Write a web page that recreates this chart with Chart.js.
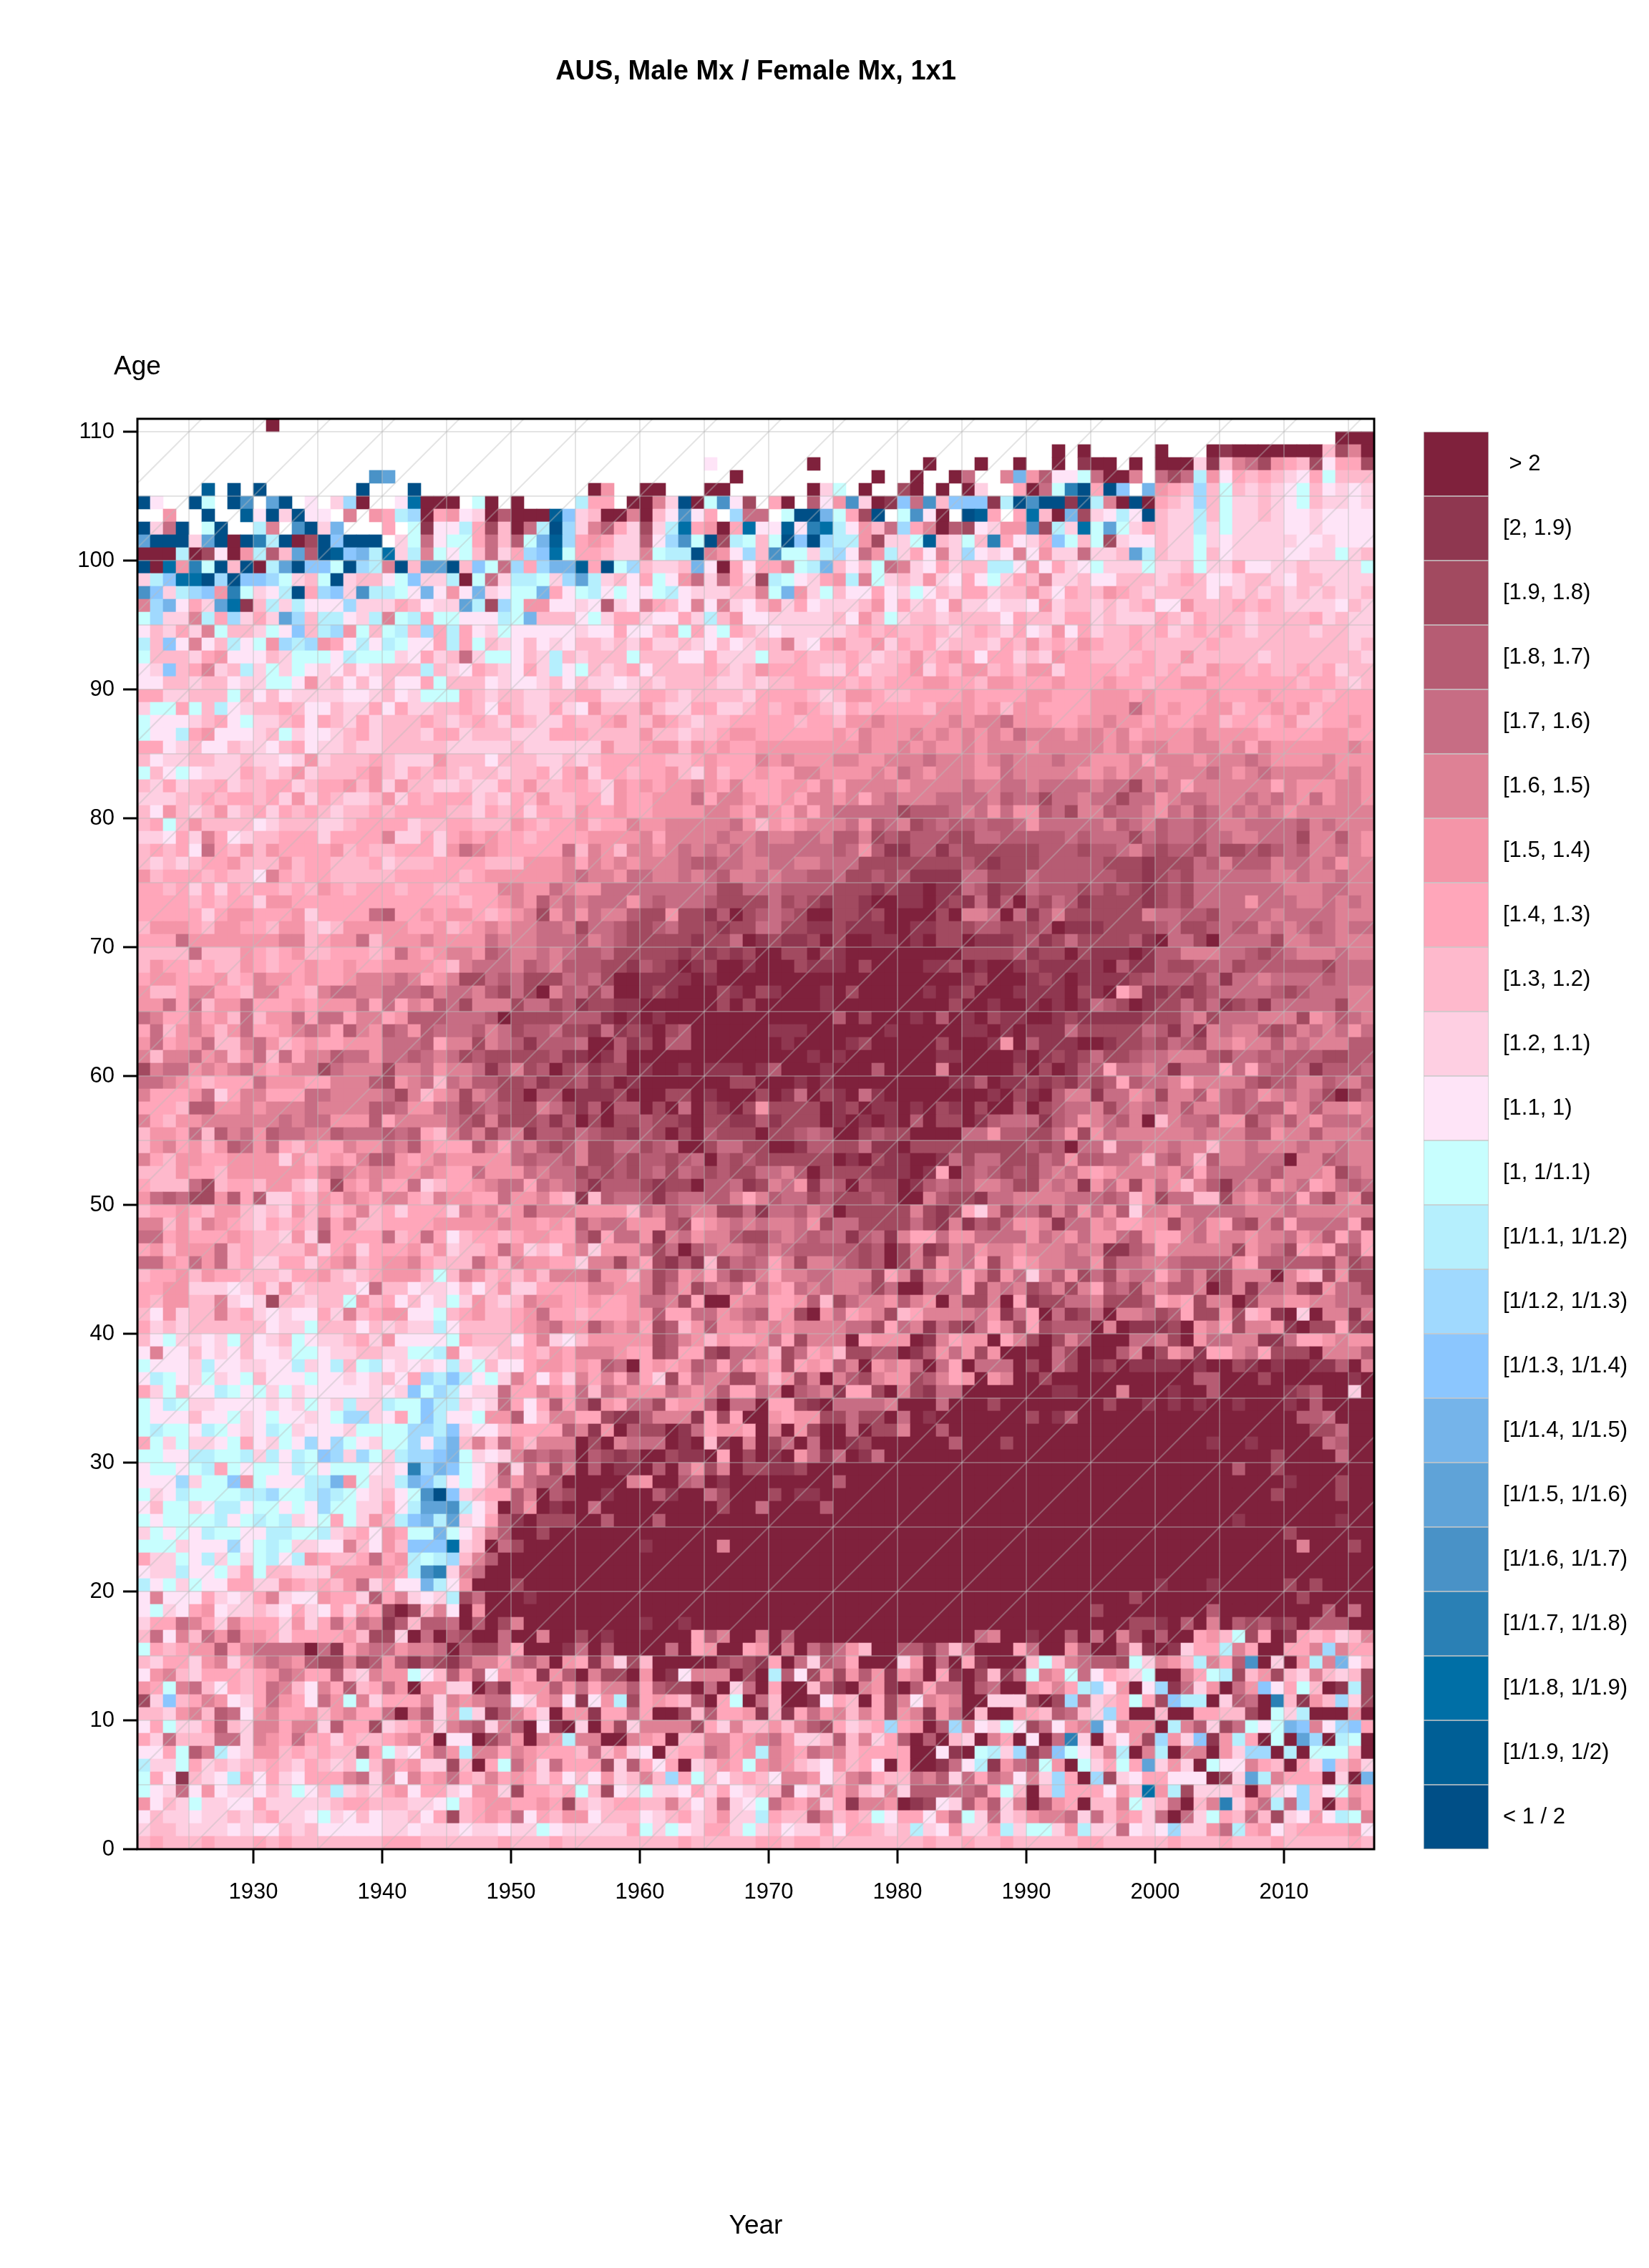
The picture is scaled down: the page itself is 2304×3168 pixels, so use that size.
<!DOCTYPE html>
<html>
<head>
<meta charset="utf-8">
<title>AUS, Male Mx / Female Mx, 1x1</title>
<script src="https://cdn.jsdelivr.net/npm/chart.js@4/dist/chart.umd.min.js"></script>
<style>
  html, body { margin: 0; padding: 0; background: #fff; }
  canvas { position: absolute; top: 0; display: block; }
  #heat { left: 0; }
  #key { left: 1957px; }
</style>
</head>
<body>
<canvas id="heat" width="2112" height="3168"></canvas>
<canvas id="key" width="347" height="3168"></canvas>
<script>
const titleText = "AUS, Male Mx / Female Mx, 1x1";
const firstYear = 1921;
const topAge = 110;

// legend classes, top to bottom; a letter in ratioRows is an index into these
const classCodes = "abcdefghijklmnopqrstuv";
const classLabels = [
  " > 2", "[2, 1.9)", "[1.9, 1.8)", "[1.8, 1.7)", "[1.7, 1.6)", "[1.6, 1.5)", "[1.5, 1.4)", "[1.4, 1.3)",
  "[1.3, 1.2)", "[1.2, 1.1)", "[1.1, 1)", "[1, 1/1.1)", "[1/1.1, 1/1.2)", "[1/1.2, 1/1.3)", "[1/1.3, 1/1.4)",
  "[1/1.4, 1/1.5)", "[1/1.5, 1/1.6)", "[1/1.6, 1/1.7)", "[1/1.7, 1/1.8)", "[1/1.8, 1/1.9)", "[1/1.9, 1/2)", "< 1 / 2"
];
const classColors = [
  "#7f213c", "#8f3750", "#a24a60", "#b65c73", "#c76d84", "#de8195", "#f495a8", "#ffa6ba",
  "#feb9cc", "#fecfe2", "#fee4f7", "#c7fefe", "#b5effd", "#a0d9fe", "#8bc6fe",
  "#75b4ea", "#5fa3d8", "#4992c7", "#2a80b5", "#006fa6", "#005f96", "#004f87"
];

const xTickYears = [1925,1930,1935,1940,1945,1950,1955,1960,1965,1970,1975,1980,1985,1990,1995,2000,2005,2010,2015];
const yTickAges = [0,5,10,15,20,25,30,35,40,45,50,55,60,65,70,75,80,85,90,95,100,105,110];
const cohorts = [1810,1815,1820,1825,1830,1835,1840,1845,1850,1855,1860,1865,1870,1875,1880,1885,1890,1895,1900,1905,1910,1915,1920,1925,1930,1935,1940,1945,1950,1955,1960,1965,1970,1975,1980,1985,1990,1995,2000,2005,2010,2015];

// one row per age from 110 down to 0; groups: 1921-29, 1930s ... 2000s, 2010-16; "." = no value
const ratioRows = [
"......... .a........ .......... .......... .......... .......... .......... .......... .......... .......",
"......... .......... .......... .......... .......... .......... .......... .......... .......... ....aaa",
"......... .......... .......... .......... .......... .......... .......... ..a.a..... a...abaaaa aaaicfa",
"......... .......... .......... .......... .....k.... ...a...... ..a...a..a ..a.baa.a. aaajbifecg hickhhc",
"......... .........r q......... .......... .......a.. ........a. .a..ae..fp gdkkleaaf. ecemgkhihi jkhliii",
".....u.v. v.......v. ..v....... ......ag.. aa...aa... ...ajl.a.. ca.a.aj..h aelsvhvo.p ghinilijij klikjkj",
"vk..vl.vr .qv.k.jna. .ktaaa.la. a....mhh.a afjvalrkc. ha.dkgrjab oeriooobmv rvvbvmfava hijniljjij klijjkj",
"..g..v..u kvjvkk.f.g hmnahgkjad aaauojiaaf aikrkh.nee .lvvplhcv. lrka.vuh.h tiapcjkmkv ijjmiljjij kkjkkkk",
"vjev.lv.. mf.rvjp... h.lbkkmhci aemvnjfdhj cjmthgahtk kukstmkgie nhfadckjgg rcmjtlqljh ijjmjljjjj kkjkkkk",
"qvvvjqvav smvacvovvv .jlekllhei dlpunhghjj dknrlvcmli lvovnmmgcj jluijlishk jholilcjkk ijjljkjjjj jkkjkkk",
"aaamackag mdiqdvuopm tjmflkliej hnotlhhijj flmmvfgkni rlljmnkegm jhkfjnkjkf kgjjejjiqm ijjlikjjjj kkjjlji",
"vatgslviv amqvoolvnm fviqqviole nhnppuhvln ijjipkahkh hflmpikile fjkhjiimmk gkhjkljjjl jjiljjhkkj jijjjjl",
"jmottvnvo onljilvjii klojjmalej mmljnqmjik hlkgejehjc mlkjhgmflj ijgjkhkljh ifjjikkiii jihikkjiij kiijjjj",
"rojmnogsl jkmvhnojrm mlkpkgkpjk llphklmklk klmkjjjiif lpgjlikkhk jlkijhhjii gikhiighij iiiikijiji jijijji",
"fnpkhjqtb imjmkkknjj jhikjjqmcn lggkkjkdjk fhikfkfjki gjhkjjjigk hjikgjjkjj kgjiijijih kkgiiihihi jjjjkij",
"lnjjfmhnj hjqnimmkjm flmhllkkkm lpiiikljhh jkkhjmigkk jjjjjikgil jiijiiiikh iijhhjijjj hijhiiijii iihjijj",
"kijhjflii jlkoimngli lminhmhkjl kkkkkjkkhk kihlhklhij kjjjjjihih iihijihijh kjgkhjiihi hjihihijii iijiijj",
"miokfkimk lgnmnghkmk mlkkhmhlij kikjkiijij hjjijkikji ifjkhgiigj hihjiiijhi gihighiihi iiiihiiiii iiiiiji",
"liiijhgkk kijlllkmll ljkhjiejll kijmijiiil iiikkhjjjl iihiiihiji igihghkhhj ijghhiiiih iigiiiiiji iiiiiij",
"kjoihfjim jljlkjkikj iiimijkhij khjmklijih kiiiihijig hhhijjhjii hgjhiggihi ggjhhhhihh ihiighhihi ihihjii",
"kkiijiikj jllkgjikik ikkhliiikj kkjikijjkj ijiiiijjij iihhhhihih hhgghhiggh hhghhhghhi hhgghhhhhh hihhiji",
"hhjjiiili kikjjjjkkj ikjlllhiji ijjiihhjjj hhijiiiijh hhhijigghi ihhhhghhhh gghhhggghg hhhhghhhgh hhhihhh",
"jllhlimkj iihikkijjh khjjiihikh ijjhjkgiii gijjhhjjih ihghijhihh hhiggghgig ghhhhgggeg hghhggihhg hgihhhh",
"lkkkjihkl jjihkhijhj iiihijihij hijjhiihgi ighijiihhh hhihhiggfg ggggfgffeg gghhggfggh ghhggihhih giihhgh",
"lkkmhgkkk jiljkkjihj iiijhhjiii jjjhhhiiii giijiihggh hhhhhghfgg gfgfgfgfge fffgffgfhg gggfgggghh hhhgghh",
"hhkjikkij jkihkjjijj iiiiijjjjj ijjjjjjgii hggighghhg gggggggfgg fgfggfgfff gfffffgfgf fggffgfhfg gggggfg",
"ikjjiijji jjkjgjiiih ijjjgiiiki iijjijihhh hhiihghhhf gfgggffggf ffefffgfef ffeffgggfh fffgfffefg gggfggg",
"liklkjjjh ijigjiiihg ijhihijiij iihjhgjhhi hhgijgihhg hhffggggfg efgfffggef ffffggfgff gfffefgfef ffffgfg",
"ijhjiihji ihhjihhgig jgiijjijjh igiihhijgh ghggfghfhh hgghfhffff gffffeffee feeeefeecf efhffffffh fgggffg",
"jjjiihihh ihjgjhijji gjhihhhjij higiihhjgh hgggehffgh hghffgfhfe fffeeeefde eceefeecee gfeefffefe fgegffg",
"ikgijigji hjhihijiih ihhhhiijhi hjhhighhgh hggggffghf ghfhfeeeee cdddefegeg gdecffdeef gefdefefef gffffff",
"ihligiiii kjiiijjihh hhjiihhiii ghihhgihhf ggfffffegi ghgfffegde fcdeddedde geeeeefdef deedeffeee edfefff",
"jjkhjfhkj iihhhjhhhh fjjhjhghgh hihhhhgggg fhffffeffe ffeefddfcd cdddcceedd dddedeeece deedeeffee ecffdfg",
"ihihkehig ighhhhgihi ihhhjgefgh hhhheifgif fgfefefefe eeeeedegdb bddbdccccc cdddcddefd cddceccdcd edffefg",
"ijijihhgi iigihhiiih jiiihhhhii igggfhfgfg fffeddeeff eeffeeeccc cccccdcbcc cdddddcccb cccedfdddf eefegff",
"gihhhihii kfhihhiiii ihhhhhihgg ggggfeffge effefedffe feeddeccdc dbbbbeeccc eddddddccb cdceeeeeef feffeff",
"hhihjhjhi hhihighihh hihhiihhhf fggefggeee eeeeeeccee eddddcccbc bbabbedbcc edddcdcdcb cdceeeeeee fffeeff",
"hhhhihihh jgghhhhhhh hhhhhhihhg fgdfefeeeg edeeedcccc ecdcbccbaa bbabcbebda dcedbccccb cdceeeegee effefef",
"hhhhhjhgg hhhgjhhhhe dhhghgghih gfcgegeffd ccgccbdacd edcaaccbca aaacaffeae bdfccccccf eeddceeeef eeeefff",
"iggghiggh higgijiggg gghhgihgfg ffeefceedc cdecccbcce eccbbcbbba abbcccddcc cdabbbcccc deccdeddfe fedefee",
"hhheggggg ggffihggei gggfggggef ffeeedfedc ccccbcceab cbbcacaabb abaccabbbc dbceccccdb aeecaeeeec ffeefff",
"iiiieiiig hihgiihhhi heghgffgde ffefeddecc cccbcbcbca accacbaaaa aaaaaccccd bccacbbbab ddfffeedcd efffeff",
"ighhihiig hihhghhghh gggghifeee fdefdddccb dcbabcaaba aacbbbacaa aabbcabaab cbbbbbadbb dccddecddd dddceee",
"hgghhhgih fgghghhgff fefhgfcced ecccedecaa bbbbabaaaa aaaaaaaaaa aaaaabcaaa bcbabbbbcd dddcebeefe eeedeee",
"giihffhhi ffhhifeeff eeedfeefdc ecafdeceaa bcbaaacbac baaabacaaa aababcaaab bbbacbahfb bcbcdeeeed cdeeeff",
"ggeheigge hhhghgggeh ehfgdecfff ceecdbccbb aaaaaacaca aaaabaaaaa aaaacaabaa bababedcab ccecebcdbe eeeecff",
"efhhfhgie iggeheehff hgdddeeeda ccccdddbab abaaaaaaaa aaaaadacaa abadabacbb aabcbbbbbc ccefceeeff fcgfdef",
"heigfgige hhgfefhdfg degdeeedfe cddeccbebc bacdaaaaaa bbbaaaaaab aaaaabbaba bbbeccccce dbebfeffdc dfefege",
"gehggeiif egihghhggg eeedhffcfe dbdddeaadb caddaaaaaa abaaaabcaa aaacaaabga dbbbaabccd cedcffgffd fefffdd",
"fiffegfig eiehffdeeg eedefecdcc cccdbbabda aaaaaaaaaa aaababaaaa aaabbaaaab abcbceccde efffdceede dddccdd",
"cfeegfgfe ghgffcefff cffegffebd fcdacdbcca baababbbab daaabaaada aaafaaaaac acabddheef ebeeehehed debddde",
"eefghihhh eggghhfffd cgfeiefddc cdbccdbcab aaaaaaacca aababaaaaa aaaabbdabb cbcbdcdhde efhffffdcd dffdefd",
"fhhhgejhf fhhheeffff ecfigfcfec caddabbbca aaccabaaac abeacbaeba aaaaaaabac badffbeegf cffdgedegf efecace",
"hhhiddggf gfffeffffd deggeecded ccfecbdadd acaeacbacg ccccabcabb abacbacaad acdeefcefe efdffededd gfdffgf",
"fhiggffff ffefeegggd hffffedcfc ccdbdacacc dccbaccbbd bcccababab adaccabdee ebdegfedfa ifeedggcef dfgeeef",
"iggheidfe gdeeffdeee dedhifdfce fbddcedccb dcacadccca ccdedaacdc caaaaeegdd ccegcgefff fffefffddg ffdfffe",
"igfhgigde gehighhfgg efdghhhdfh efdcdfccee cdeaaceecc aabddccebb accccccccc dcdaeeieef feffiffeff feffeff",
"fhigghhgg ggjgihghfd dghgfggggg edeedfccdc ddcdeadcdc cccccabacb baabeceecc cedgddeefi edfidffeee affdeff",
"iiighhigg gggghfefgf fggfghhegg gefeecdcdc decedcdcce efdaccccbb babhadedcd cefeghgfff fgeheeeeed fffgcef",
"hiiiecihh iggijhcghf hhejihhgfe ehefedbddd cbccaddebc fegbedadcc abdeddffec cfefbgegcg egifdbefdg fehgede",
"gedeccgdh djjhighfgh ffhifgghhe ggfhibidee dbdeeddfhf deecdcccdc aafdccbeef fffeeedeig ceeiicfgfe ehecfgc",
"ihhghiggi jijgigihfi hjhhhjfgfh gdfffggggi efdeffcceb eedfeacccc cfcbchjfce ecfdgegdjf fgeeeeefff effffff",
"ffigifghi jhihiehfii hhhhgggggf gghghdfeeg ggdchgfefe ffegceeccc cecbfbdceg gfbeegfhhg gcfeghdcfd heeeehc",
"eehghhhgh iijgjdhhhh eihehkihhi hgghhechee gbfegffdcc efedeebdeb fhheggeeee gefgeggedg hhfegffgff egfdheh",
"hgigggeih iiiigjhgjh hhgigjiihe gjijgfjggg eceadeffed fedddddcda cfbcfegffg fffeffbbde hfffffcgfe chghddh",
"eeghegeih jjhhjhgfih ggfhiiiegi fgghhjffcf hcbdbicede hfcffedcda cfcgfehcfh gffeegceef feddddghdd dddcfcd",
"ihhgighhi iijhhgijih gggilifgih igifffdggi fcdgfhecdf hffeefffch fbfgehfcge jfdgcecfee hfdfccfffa fhicgcc",
"hhggjjjkj hjgjiiiike iikjjkikig jjhhhhffgg fcegcefehe ghefeffece aaeeehcfef cdfcfhdecf fddfacfbee fcbgeec",
"higgiifjk jciijiilgi hkikjljgij ifgghhghhg eefchaagff hhgdiceffg dfgafccfah bcceefcccd hghcffacff ggffeee",
"ikgjiifih jkjkkhjfih ggkklihgii hgehhihhhg gdhheegfed hgcagehgfc ihffffegbe haebceaffe cdhccgcihb ajaffbf",
"hjijiiiii ikjjliiiki jijjmkiiii hgfeggdfgf hcdigdggfg fgffffeech efbecbehfc hcdddafabb bcagfhcffg bacchcb",
"ikljjkjli kjilkjjihj gkkkklhiii khfjkigggg gcdfgighhg ehcfffahgg gabfhggahf cacfdaaaee fcageeffbb ehhgfgg",
"kfkkikjki kkjllkjjii jjllmgkjji ihighfffgh hcdhhcbeef icehgiccdd abdgegcgaa aaecaaadfa cgfbhhfehc ccafffd",
"lkkkjmkkj jkkmjkmilm kjkjkmjlik khgghghdea hghgdehehg hchghdfagf geaehaeeea caecabcabb bbabaacbab aabbdaf",
"kmlkjljkl ikkklkkjkj ikhnmomklj fhkhjfhfhe hjcheffccf igcfafdcfg gcdfhgagfa acaaaaaaaa aaaddaaaca aaaaaba",
"hjlikkmlk ljljkkkkkj kjolnmkjje hhfgheiefg ggefgfdhhe fadefbhhca fcbeeaaaaa aabbaaafaa abaadaaaaa bcdaaja",
"lkmljjkkk kjkjlkjmjj mllommjkje hkhdhebghe echggdaeea hhcbaeeeef aaaeaaacaa aaaaaacaab ababaabaaa badaaaa",
"lkkkikklj klkkjklnnj khlomkklgg dkiffhhcbb dfffbhchaa ghggccecca eabaaaaaaa cabdaaaaaa aaaaaaaaaa addeaaa",
"lmllkmlkj kmljkkkjll llnnmojkki hhhhdfbgad ccabehggha fagcaaeacc faadaaaaaa aaaaaaaaaa aaaaaaaaaa aacceaa",
"hljljjklh kjlknknlkj llnknpifie gifffacafe eeabaibafa ceaeaabcaa aaaadaaaca aaaaaaaaaa aaaabaabaa aaaedaa",
"llkkmmllm jmkmlonjnl jmnnopljkj fdedeadcbc aacbbahaca bagebeabea aaaaaaaaaa aaaaaaaaaa aaaaaaaaac aaaaeaa",
"kllklmhlk llkmlklllk jksnpolkid jegcfadabb adaegcfacc bbcaaaaaaa aaaaaaaaaa aaaaaaaaaa aaaaaadaac aaaaaaa",
"kkknjllog lkkkmmpglj jmpomklkie geddaaaaaf gaadeabaaa aaaaadaaaa aaaaaaaaaa aaaaaaaaaa aaaaaaaaaa baaacaa",
"ljkmllllm mnllmnmlkj iklrvojihh dfadcaabaa adbaaecaaa cabbaaaaaa aaaaaaaaaa aaaaaaaaaa aaaaaaaaac aaaacaa",
"killjkmmk llklknlljj hkmqqrmkia dgabaaeaaa aaaaaacaae aaaadaaaaa aaaaaaaaaa aaaaaaaaaa aaaaaaaaaa aaaaaaa",
"lkllllmkl mlmjklhljg imopmqjkhd bacccaadaa adaaaaaaaa aaaaaaaaaa aaaaaaaaaa aaaaaaaaaa aaaaaabaaa aaaabaa",
"jlklkmllk kmmllmjihk ghllplkifd aacaaaaaaa aaaaaaaaaa aaaaaaaaaa aaaaaaaaaa aaaaaaaaaa aaaaaaaaaa caaaaaa",
"llljkkknk lmljjkkfik gioootjiae caaaaaaaaa baaaaafaaa aaaaaaaaaa aaaaaaaaaa aaaaaaaaaa aaaaaaaaaa afaaaca",
"hjjlkmjlj lmkmghiihe hgmlmnifda aaaaaaaaaa aaaaaaaaaa aaaaaaaaaa aaaaaaaaaa aaaaaaaaaa aaaaaaaaaa aaaaaaa",
"kjjmkkljh liijjjgggg ghmrsjfeaa aaaaaaaaaa aaaaaaaaaa aaaaaaaaaa aaaaaaaaaa aaaaaaaaaa aaaaaaaaaa aaaaaaa",
"mkljlkkhh jjghihigej hkkpmkgaaa caaaaaaaaa aaaaaaaaaa aaaaaaaaaa aaaaaaaaaa aaaaaaaaaa baaabaaaaa cacaaaa",
"kfkkkhjkj hfjkkghhjd hfjkjmceaa abaaaaaaaa aaaaaaaaaa aaaaaaaaaa aaaaaaaaaa aaaaaaaaca aaaaaaaaaa acaaaaa",
"kljkhgkjj ijkhjkhjgh cacifkagaa aaaaaaaaaa aaaaaaaaaa aaaaaaaaaa aaaaaaaaaa aaaaacaaaa aaaadaaaaa aaadaea",
"jhhefhjfh hhjgjhehef bdiddeadac faaaaaaaaa baabaaaaaa aaaaaaaaaa aaaaaaaaaa aaaaaaaacc badafadcdb cadddaa",
"iekfiegdg ghjhhhhgic cjaeadcaae aafaacabaa aaaahdfaaf adaaaaaaaa aaaaaaefaa baadaeafca daahgilcha bhihjif",
"lhihggdhf eeeeaebhfe egffeadcce haaabeadaa aaeahgaahg afaecegiaa ddbeieaaah eaagdaadib abjhhmfhaa hhfnfhh",
"ijhhjgfjh fefgdccfcd gdbdcbdffh edfaghbfjc iaaaaacdcb haejdehaaa jgaeahbaaa ilifeddclj fgimfhdraj agmfpki",
"kgfijhhhi hgefhhdijf gglkidgdkg ghbgdafcca gabkfffaca mdkcgcgdgb gfahbacibe lfglekhijl aafhlmcigc ijfijic",
"ghlfeikhi hefikfhdih egaggjjadb hggdgehffd hdccaeajea haaidbafgb adheeadeaa ghfhmnkgak nbejgaegok hliabmc",
"cjoihfgkj heghkeglfj hhhfjfgfee kjgfkbkgmc hghidahlae iaabkhiahc fkfgfaajjj cacnejihlh commajdeas ibginjc",
"iijgfidek gfhhgigfhh eafdjgmjbd fhjaggbhhe haacidhhgb ibhegfifhc gfbgeaiaag hideijnhaa iaahhiical jmaaaga",
"khljjhdij ffhffjdhhc jihfjfedjf dakbajagcj ffffchjfii gifdchjihn hgadnfkjlk cekgfqkfgg amfdjcelkl pofknoh",
"hjeiiieej fghehhjhii hgfhakkace gafgmffaaf ghaiiffhgf egjjidifjh dadaijafha kaesjaikgc ngjobgmhal aqnamla",
"kkhldfmkj ggihihiidh ljkgegmffh fghhhieigj kaihhefhgm fgheffihhh haakbalmjn bdolkifmaf maffagjnna malllia",
"mjjlhjiji ihijhijili fhgjjciahl egjehhhcjd hkhajighlg fgijkgihka haabekmbge dlgaljhlhq jgjalkkfhi ahjoigj",
"lhkbijkmh khjkhhhfej fkfhgehifh ghjhkikgji finhlikihi kffgkifehi iefdjehefk fjnhancjkh hkkkacjqmf hhhajap",
"lkjekgkjj kijlkimjij hgkhhjkggj chhihlickj ljjkhjhkji idkjfhfijf jdddeedhli ainhhhkgit gmcjjjiagj kniklgh",
"gkijljjkk hjjjjjihhi iijjklihgg hhghcijihh iifikiejkl eghfjhbffg abckjdgdjf adghaiiflj ieaifsjgem eniahfh",
"kijjkjjij ihjjkljkik jjikhcihgh ekhiggkiii kjihjigjjm hiidfihilk hhkgeljeji gffejeighj eaejlhieic jkgkmlf",
"jiijjjjkj kkijikkkkk jjkjjjkjjk jjlkjjjjjh ljlkjhhjlj ikjjhkhhij imjkgjjhmj lljgmjjekj knjjgemhgk ihhhhgk",
"ihiiihiii hihiiiiiii hhhiiiiiih iiihiiiiii iiihiiiiih hihhiiiiii iihiihiihi iiiihhiiii ihiiihiiih iiiiihi"
];

const chartFont = "'Liberation Sans', Helvetica, Arial, sans-serif";
Chart.defaults.font.family = chartFont;
Chart.defaults.color = "#000";

// build the cells from the rows
const cells = [];
const cellColors = [];
ratioRows.forEach(function (row, r) {
  const codes = row.replace(/ /g, "");
  for (let c = 0; c < codes.length; c++) {
    const k = classCodes.indexOf(codes[c]);
    if (k < 0) continue;
    const age = topAge - r;
    cells.push({ x: firstYear + c + 0.5, y: [age, age + 1] });
    cellColors.push(classColors[k]);
  }
});

const lineColor = "rgba(187,187,187,0.4)";
const datasets = [{
  type: "bar",
  data: cells,
  backgroundColor: cellColors,
  borderWidth: 0,
  barPercentage: 1,
  categoryPercentage: 1,
  order: 2
}];
cohorts.forEach(function (c) {
  datasets.push({
    type: "line",
    data: [{ x: c, y: 0 }, { x: c + 111, y: 111 }],
    borderColor: lineColor,
    borderWidth: 2,
    pointRadius: 0,
    order: 1
  });
});

const plotFrame = {
  id: "plotFrame",
  afterDraw(chart) {
    const a = chart.chartArea, g = chart.ctx;
    g.save();
    g.strokeStyle = "#000";
    g.lineWidth = 3;
    g.strokeRect(a.left, a.top, a.right - a.left, a.bottom - a.top);
    g.fillStyle = "#000";
    g.font = "37px " + chartFont;
    g.textAlign = "center";
    g.textBaseline = "middle";
    g.fillText("Age", 192, 513);
    g.restore();
  }
};

new Chart(document.getElementById("heat"), {
  type: "bar",
  data: { datasets: datasets },
  plugins: [plotFrame],
  options: {
    responsive: false,
    animation: false,
    devicePixelRatio: 1,
    events: [],
    layout: { padding: 0 },
    plugins: {
      legend: { display: false },
      tooltip: { enabled: false },
      title: {
        display: true,
        text: titleText,
        color: "#000",
        font: { size: 38, weight: "bold", lineHeight: 1 },
        padding: { top: 82, bottom: 465 }
      }
    },
    scales: {
      x: {
        type: "linear",
        offset: false,
        min: 1921,
        max: 2017,
        afterBuildTicks(s) { s.ticks = xTickYears.map(v => ({ value: v })); },
        afterFit(s) { s.height = 585; },
        ticks: {
          autoSkip: false,
          maxRotation: 0,
          padding: 22,
          font: { size: 31 },
          callback: v => (v % 10 === 0 ? String(v) : "")
        },
        grid: {
          z: 1,
          offset: false,
          color: lineColor,
          lineWidth: 2,
          tickLength: 20,
          tickColor: c => (c.tick && c.tick.value % 10 === 0 ? "#000" : "rgba(0,0,0,0)"),
          tickWidth: 3
        },
        border: { display: false },
        title: { display: true, text: "Year", font: { size: 37 }, padding: { top: 0, bottom: 36 } }
      },
      y: {
        type: "linear",
        min: 0,
        max: 111,
        afterBuildTicks(s) { s.ticks = yTickAges.map(v => ({ value: v })); },
        afterFit(s) { s.width = 192; },
        ticks: {
          autoSkip: false,
          padding: 12,
          font: { size: 31 },
          callback: v => (v % 10 === 0 ? String(v) : "")
        },
        grid: {
          z: 1,
          color: lineColor,
          lineWidth: 2,
          tickLength: 20,
          tickColor: c => (c.tick && c.tick.value % 10 === 0 ? "#000" : "rgba(0,0,0,0)"),
          tickWidth: 3
        },
        border: { display: false }
      },
      // empty axis on the right, keeps the title centred over the plot
      yRight: {
        type: "linear",
        position: "right",
        afterFit(s) { s.width = 192; },
        ticks: { display: false },
        grid: { display: false, drawTicks: false },
        border: { display: false }
      }
    }
  }
});

// colour key, built bottom-up so the stack reads like the legend
const keyLabels = classLabels.slice().reverse();
const keyColors = classColors.slice().reverse();
new Chart(document.getElementById("key"), {
  type: "bar",
  data: {
    labels: [""],
    datasets: keyColors.map(function (col, i) {
      return {
        label: keyLabels[i],
        data: [1],
        backgroundColor: col,
        borderColor: "#c8c8c8",
        borderWidth: 1,
        borderSkipped: false,
        barPercentage: 1,
        categoryPercentage: 1
      };
    })
  },
  options: {
    responsive: false,
    animation: false,
    devicePixelRatio: 1,
    events: [],
    layout: { padding: { left: 32, right: 0, top: 603, bottom: 585 } },
    plugins: { legend: { display: false }, tooltip: { enabled: false }, title: { display: false } },
    scales: {
      x: { display: false, stacked: true },
      y: {
        position: "right",
        stacked: true,
        min: 0,
        max: 22,
        afterBuildTicks(s) { s.ticks = keyLabels.map((l, i) => ({ value: i + 0.5 })); },
        afterFit(s) { s.width = 224; },
        grid: { display: false, drawTicks: false },
        border: { display: false },
        ticks: {
          autoSkip: false,
          crossAlign: "near",
          padding: 20,
          font: { size: 31 },
          callback: v => keyLabels[Math.floor(v)]
        }
      }
    }
  }
});
</script>
</body>
</html>
